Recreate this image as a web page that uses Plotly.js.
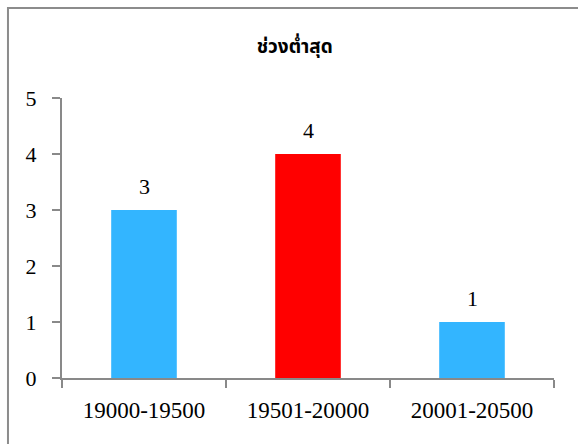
<!DOCTYPE html>
<html>
<head>
<meta charset="utf-8">
<script src="https://cdn.plot.ly/plotly-3.0.1.min.js"></script>
<style>
html,body{margin:0;padding:0;background:#fff;}
#chart{width:578px;height:444px;}
</style>
</head>
<body>
<div id="chart"></div>
<script>
const categories = ["19000-19500", "19501-20000", "20001-20500"];
const counts = [3, 4, 1];
const barColors = ["#33B5FF", "#FF0000", "#33B5FF"];
const chartTitle = "ช่วงต่ำสุด";
const yTicks = [0, 1, 2, 3, 4, 5];

const serif = "'Liberation Serif', 'Times New Roman', serif";
const axisColor = "#898989";

const trace = {
  type: "bar",
  x: categories,
  y: counts,
  marker: {color: barColors, line: {width: 0}},
  hoverinfo: "none",
  cliponaxis: false
};

const annotations = categories.map((c, i) => ({
  x: c, y: counts[i], xref: "x", yref: "y",
  text: String(counts[i]),
  showarrow: false,
  yanchor: "bottom",
  yshift: 9,
  font: {family: serif, size: 22, color: "#000"}
}));

const layout = {
  width: 578, height: 444,
  margin: {l: 62, r: 24, t: 98, b: 66},
  paper_bgcolor: "#fff",
  plot_bgcolor: "#fff",
  showlegend: false,
  bargap: 0.6,
  title: {
    text: "<b>" + chartTitle + "</b>",
    x: 0.51, xanchor: "center",
    y: 0.895, yanchor: "middle",
    font: {family: "'Noto Sans Thai', 'Noto Sans', 'DejaVu Sans', sans-serif", size: 19, color: "#000"}
  },
  xaxis: {
    type: "category",
    showline: true, linecolor: axisColor, linewidth: 2,
    ticks: "outside", tickson: "boundaries", ticklen: 8, tickwidth: 2, tickcolor: axisColor,
    showgrid: false, zeroline: false,
    tickfont: {family: serif, size: 23, color: "#000"},
    ticklabelstandoff: 10,
    fixedrange: true
  },
  yaxis: {
    range: [0, 5],
    tickvals: yTicks,
    showline: true, linecolor: axisColor, linewidth: 2,
    ticks: "outside", ticklen: 8, tickwidth: 2, tickcolor: axisColor,
    showgrid: false, zeroline: false,
    tickfont: {family: serif, size: 22, color: "#000"},
    ticklabelstandoff: 11,
    fixedrange: true
  },
  annotations: annotations,
  shapes: [{
    type: "rect", xref: "paper", yref: "paper",
    x0: -0.1098, x1: 1.3, y0: -0.5, y1: 1.3214,
    line: {color: "#8c8c8c", width: 2},
    fillcolor: "rgba(0,0,0,0)",
    layer: "below"
  }]
};

Plotly.newPlot("chart", [trace], layout, {displayModeBar: false, staticPlot: true});
</script>
</body>
</html>
